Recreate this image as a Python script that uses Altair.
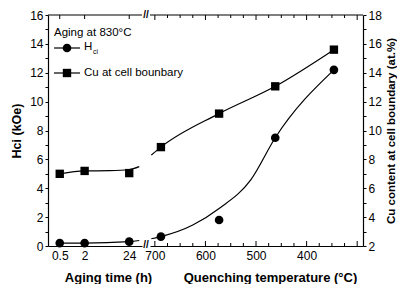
import altair as alt
import pandas as pd

# ---- data ----
aging_time = [0.5, 2, 24]
hci_aging = [0.2, 0.2, 0.3]
cu_aging = [7.0, 7.2, 7.05]

quench_temp = [688, 573, 462, 346]
hci_quench = [0.65, 1.8, 7.5, 12.2]
cu_quench = [8.85, 11.17, 13.06, 15.6]

# guide curves as drawn in the figure
hci_curve_aging_t = [0.5, 2, 24, 42]
hci_curve_aging_v = [0.2, 0.2, 0.3, 0.38]
cu_curve_aging_t = [0.5, 2, 8, 24, 42]
cu_curve_aging_v = [7.0, 7.2, 7.22, 7.3, 7.5]
hci_curve_quench_t = [707, 688, 625, 573, 510, 462, 346]
hci_curve_quench_v = [0.5, 0.65, 1.45, 2.6, 4.6, 7.5, 12.2]
cu_curve_quench_t = [707, 688, 573, 462, 346]
cu_curve_quench_v = [8.3, 8.85, 11.17, 13.06, 15.6]

aging_ticks = [0.5, 2, 24]
temp_labels = [700, 600, 500, 400]
temp_major_ticks = [700, 600, 500, 400, 300]
temp_minor_ticks = [675, 650, 625, 575, 550, 525, 475, 450, 425, 375, 350, 325]
hci_ticks = list(range(0, 17))
cu_ticks = list(range(2, 19))

FONT = "Liberation Sans"
WL, WR, H = 94, 213, 231

xs_left = alt.Scale(type="log", domain=[0.26, 48.9])
xs_right = alt.Scale(domain=[288.5, 709.6], reverse=True)
ys_h = alt.Scale(domain=[0, 16])
ys_c = alt.Scale(domain=[2, 18])

ax_left = alt.Axis(values=aging_ticks, ticks=False, grid=False, labelFontSize=12, labelFont=FONT,
                   labelPadding=4, domainColor="black", domainWidth=1.2,
                   title="Aging time (h)", titleFont=FONT, titleFontSize=13,
                   titleFontWeight="bold", titleX=60, titleAlign="center", titlePadding=10,
                   labelExpr="datum.value == 0.5 ? '0.5' : format(datum.value, 'd')")
ax_right = alt.Axis(values=temp_labels, ticks=False, grid=False, labelFontSize=12, labelFont=FONT,
                    labelPadding=4, domainColor="black", domainWidth=1.2,
                    title="Quenching temperature (°C)", titleFont=FONT, titleFontSize=13,
                    titleFontWeight="bold", titleX=120, titleAlign="center", titlePadding=10)
ax_h = alt.Axis(values=hci_ticks, labelExpr="datum.value % 2 == 0 ? datum.label : ''",
                tickSize=3, tickColor="black", labelFontSize=12, labelFont=FONT,
                domainColor="black", domainWidth=1.2, grid=False,
                title="Hci (kOe)", titleFont=FONT, titleFontSize=12.5, titleFontWeight="bold",
                titlePadding=6)
ax_c = alt.Axis(orient="right", values=cu_ticks,
                labelExpr="datum.value % 2 == 0 ? datum.label : ''",
                tickSize=3, tickColor="black", labelFontSize=12, labelFont=FONT,
                domainColor="black", domainWidth=1.2, grid=False,
                title="Cu content at cell boundary (at.%)", titleFont=FONT,
                titleFontSize=11.5, titleFontWeight="bold", titleAngle=270,
                titleBaseline="top", titlePadding=4)

one = pd.DataFrame({"a": [0]})
NOVIEW = alt.ViewBackground(strokeOpacity=0, strokeWidth=0)


def df(t, v):
    return pd.DataFrame({"t": t, "v": v})


def panel(xs, ax, W, hcurve, ccurve, hpts, cpts, show_h_axis, show_c_axis, tick_sets):
    X = alt.X("t:Q", scale=xs, axis=ax)
    layers = []
    layers.append(alt.Chart(df(*hcurve)).mark_line(color="black", strokeWidth=1.2,
                                                   interpolate="monotone", clip=True)
                  .encode(x=X, y=alt.Y("v:Q", scale=ys_h, axis=ax_h if show_h_axis else None)))
    layers.append(alt.Chart(df(*hpts)).mark_point(shape="circle", filled=True, color="black",
                                                  opacity=1, size=75)
                  .encode(x=X, y=alt.Y("v:Q", scale=ys_h, axis=None)))
    layers.append(alt.Chart(df(*ccurve)).mark_line(color="black", strokeWidth=1.2,
                                                   interpolate="monotone", clip=True)
                  .encode(x=X, y=alt.Y("v:Q", scale=ys_c, axis=ax_c if show_c_axis else None)))
    layers.append(alt.Chart(df(*cpts)).mark_point(shape="square", filled=True, color="black",
                                                  opacity=1, size=70)
                  .encode(x=X, y=alt.Y("v:Q", scale=ys_c, axis=None)))
    for vals, size in tick_sets:
        tdf = pd.DataFrame({"t": vals})
        layers.append(alt.Chart(tdf).mark_rule(color="black", strokeWidth=1)
                      .encode(x=X, y=alt.value(H), y2=alt.value(H - size)))
        layers.append(alt.Chart(tdf).mark_rule(color="black", strokeWidth=1)
                      .encode(x=X, y=alt.value(0), y2=alt.value(size)))
    # top frame line
    layers.append(alt.Chart(one).mark_rule(color="black", strokeWidth=1.2)
                  .encode(x=alt.value(0), x2=alt.value(W), y=alt.value(0)))
    return layers


left_layers = panel(xs_left, ax_left, WL,
                    (hci_curve_aging_t, hci_curve_aging_v),
                    (cu_curve_aging_t, cu_curve_aging_v),
                    (aging_time, hci_aging), (aging_time, cu_aging),
                    True, False, [(aging_ticks, 4)])

# legend (inside plot, upper left)
leg = []
leg.append(alt.Chart(one).mark_text(align="left", baseline="middle", font=FONT, fontSize=11.5,
                                    color="black")
           .encode(x=alt.value(6), y=alt.value(18), text=alt.value("Aging at 830°C")))
leg.append(alt.Chart(one).mark_rule(color="black", strokeWidth=1.2)
           .encode(x=alt.value(6), x2=alt.value(32), y=alt.value(33)))
leg.append(alt.Chart(one).mark_point(shape="circle", filled=True, color="black", opacity=1, size=75)
           .encode(x=alt.value(19), y=alt.value(33)))
leg.append(alt.Chart(one).mark_text(align="left", baseline="middle", font=FONT, fontSize=11.5,
                                    color="black")
           .encode(x=alt.value(36), y=alt.value(32), text=alt.value("H")))
leg.append(alt.Chart(one).mark_text(align="left", baseline="middle", font=FONT, fontSize=7,
                                    color="black")
           .encode(x=alt.value(45), y=alt.value(37), text=alt.value("ci")))
leg.append(alt.Chart(one).mark_rule(color="black", strokeWidth=1.2)
           .encode(x=alt.value(6), x2=alt.value(32), y=alt.value(58)))
leg.append(alt.Chart(one).mark_point(shape="square", filled=True, color="black", opacity=1, size=70)
           .encode(x=alt.value(19), y=alt.value(58)))
leg.append(alt.Chart(one).mark_text(align="left", baseline="middle", font=FONT, fontSize=11.5,
                                    color="black")
           .encode(x=alt.value(36), y=alt.value(58), text=alt.value("Cu at cell bounbary")))

left = alt.layer(*left_layers, *leg).resolve_scale(y="independent").properties(
    width=WL, height=H, view=NOVIEW)

right_layers = panel(xs_right, ax_right, WR,
                     (hci_curve_quench_t, hci_curve_quench_v),
                     (cu_curve_quench_t, cu_curve_quench_v),
                     (quench_temp, hci_quench), (quench_temp, cu_quench),
                     False, True, [(temp_major_ticks, 5), (temp_minor_ticks, 3)])

brk = []
for yy, d in ((0, 0), (H, -1)):
    brk.append(alt.Chart(one).mark_text(align="center", baseline="middle", font=FONT,
                                        fontSize=10, fontWeight="bold", color="black", dx=-4, dy=d)
               .encode(x=alt.value(0), y=alt.value(yy), text=alt.value("//")))

right = alt.layer(*right_layers, *brk).resolve_scale(y="independent").properties(
    width=WR, height=H, view=NOVIEW)

chart = alt.hconcat(left, right, spacing=8, bounds="flush").configure_view(
    strokeOpacity=0, strokeWidth=0
).configure(
    padding={"left": 2, "right": 0, "top": 1, "bottom": 0}
)

chart.save("out.html", embed_options={"renderer": "svg", "actions": False})
